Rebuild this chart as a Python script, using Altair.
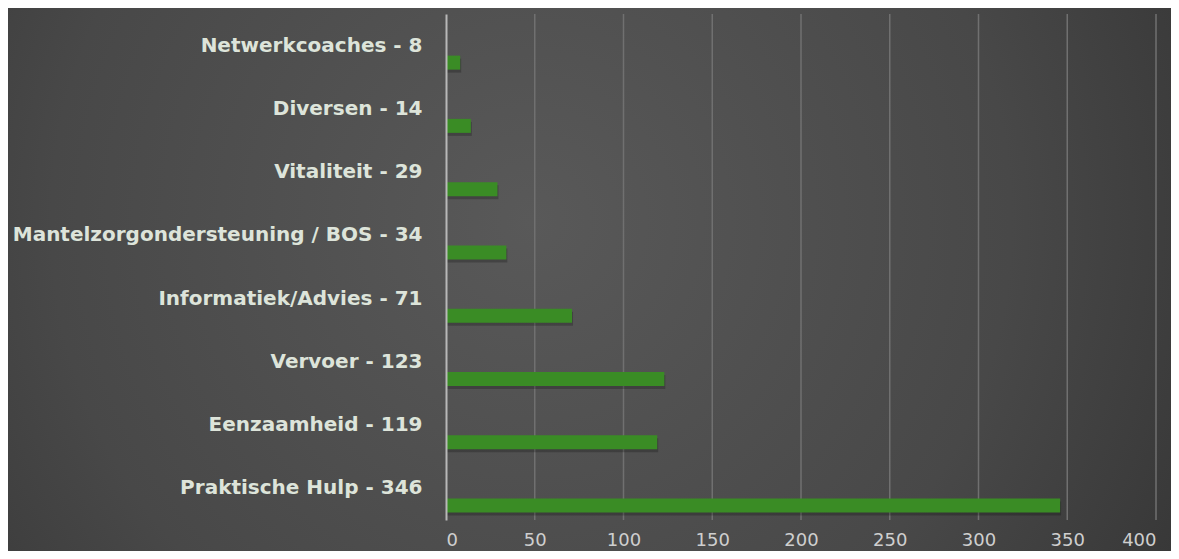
import altair as alt
import pandas as pd

categories = ["Netwerkcoaches", "Diversen", "Vitaliteit", "Mantelzorgondersteuning / BOS",
              "Informatiek/Advies", "Vervoer", "Eenzaamheid", "Praktische Hulp"]
values = [8, 14, 29, 34, 71, 123, 119, 346]
x_ticks = [0, 50, 100, 150, 200, 250, 300, 350, 400]
grid_ticks = [50, 100, 150, 200, 250, 300, 350, 400]

labels = [f"{c} - {v}" for c, v in zip(categories, values)]
df = pd.DataFrame({"label": labels, "value": values})
grid_df = pd.DataFrame({"tick": grid_ticks})

W, H = 710, 506
PL, PT = 438, 6
TW, TH = 1163, 543

gradient = {
    "gradient": "radial",
    "x1": 0.45, "y1": 0.45, "r1": 0,
    "x2": 0.45, "y2": 0.45, "r2": 0.75,
    "stops": [
        {"offset": 0, "color": "#595959"},
        {"offset": 0.55, "color": "#484848"},
        {"offset": 1, "color": "#2e2e2e"},
    ],
}

bg = alt.Chart(pd.DataFrame({"a": [0]})).mark_rect(color=gradient, clip=False).encode(
    x=alt.value(-PL), x2=alt.value(TW - PL), y=alt.value(-PT), y2=alt.value(TH - PT)
)

xscale = alt.Scale(domain=[0, 400], nice=False)
yscale = alt.Scale(paddingInner=0, paddingOuter=0)

grid = alt.Chart(grid_df).mark_rule(color="#707070", strokeWidth=1.5).encode(
    x=alt.X("tick:Q", scale=xscale)
)

xaxis = alt.Axis(values=x_ticks, grid=False, domain=False, ticks=False, title=None,
                 labelColor="#cfcfcf", labelFont="DejaVu Sans", labelFontSize=18,
                 labelPadding=11, zindex=1)
yaxis = alt.Axis(title=None, ticks=False, domain=True, domainColor="#b8b8b8", domainWidth=2,
                 labelColor="#dde4da", labelFont="DejaVu Sans", labelFontWeight="bold",
                 labelFontSize=20, labelPadding=24, labelLimit=440, zindex=1)

shadow = alt.Chart(df).mark_bar(color="#000000", opacity=0.22, size=14, yOffset=20, xOffset=1).encode(
    x=alt.X("value:Q", scale=xscale, axis=xaxis),
    y=alt.Y("label:N", sort=labels, scale=yscale, axis=yaxis),
)

bars = alt.Chart(df).mark_bar(color="#3a8c25", size=14, yOffset=17).encode(
    x=alt.X("value:Q", scale=xscale, axis=xaxis),
    y=alt.Y("label:N", sort=labels, scale=yscale, axis=yaxis),
)

chart = alt.layer(bg, grid, shadow, bars).properties(
    width=W, height=H,
    autosize=alt.AutoSizeParams(type="none"),
    padding={"left": PL, "top": PT, "right": TW - PL - W, "bottom": TH - PT - H},
    background="#3a3a3a",
).configure_view(stroke=None)

chart.save("out.html", embed_options={"renderer": "svg", "actions": False})
